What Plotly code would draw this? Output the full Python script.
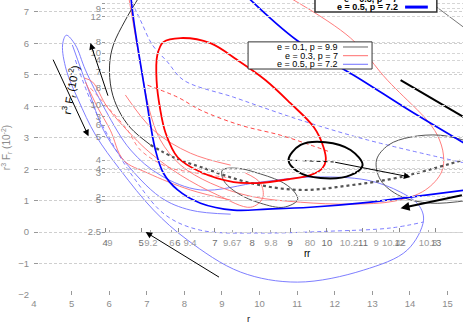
import plotly.graph_objects as go

# main axes
x_ticks = [4, 5, 6, 7, 8, 9, 10, 11, 12, 13, 14, 15]
y_ticks = [-2, -1, 0, 1, 2, 3, 4, 5, 6, 7]

# inset axis labels (as they appear, overlapping)
inset_y_vals = [7.28, 7.12, 6.84, 6.04, 5.69, 5.47, 5.09, 4.58, 4.04, 3.66, 3.40, 3.05, 2.29, 2.03, 1.88, 1.14, 1.02, 0.0]
inset_y_text = ["4.5", "9", "12", "8", "10", "4", "7", "8", "10", "3", "6", "5", "4", "4", "3", "2", "5", "2.5"]
inset_x_vals = [5.89, 6.85, 7.83, 8.81, 9.80, 10.81, 11.79, 12.75, 13.73, 14.69]
inset_x_text = ["4", "5", "6", "7", "8", "9", "10", "11", "12", "13"]
inset_x2_vals = [6.02, 7.11, 7.67, 8.15, 9.27, 10.30, 11.34, 12.38, 13.10, 13.57, 14.48]
inset_x2_text = ["9", "9.2", "6", "9.4", "9.67", "9.8", "80", "10.2", "9", "10.42", "10.3"]

# orbits: r, r^3 F_r (10^-2)
blue_thick_x = [6.57, 6.65, 6.75, 6.86, 6.99, 7.10, 7.23, 7.44, 7.82, 8.43, 9.31, 10.21, 11.35, 12.68, 14.01, 15.48,
                None, 9.71, 10.99, 12.72, 13.97, 15.48]
blue_thick_y = [7.54, 6.74, 5.95, 5.15, 4.20, 3.40, 2.61, 1.88, 1.34, 0.92, 0.70, 0.73, 0.79, 0.92, 1.11, 1.34,
                None, 7.44, 6.10, 4.83, 3.88, 2.80]
red_thick_x = [7.90, 8.69, 9.41, 10.16, 10.82, 11.44, 11.70, 11.76, 11.67, 11.35, 10.82, 9.94, 9.31, 8.43, 7.82,
               7.50, 7.36, 7.26, 7.28, 7.44, 7.90]
red_thick_y = [6.17, 6.01, 5.47, 4.83, 4.10, 3.34, 2.70, 2.29, 2.03, 1.81, 1.69, 1.56, 1.59, 1.91, 2.38,
               3.15, 3.88, 4.83, 5.63, 6.04, 6.17]
black_loop_x = [10.77, 11.09, 11.75, 12.42, 12.74, 12.42, 11.62, 11.03, 10.77]
black_loop_y = [2.29, 2.77, 2.86, 2.61, 2.13, 1.81, 1.72, 1.91, 2.29]
gray_big_x = [15.61, 14.81, 14.01, 13.43, 13.11, 13.22, 13.75, 14.55, 15.61]
gray_big_y = [2.86, 3.08, 3.02, 2.77, 2.29, 1.65, 1.14, 0.92, 1.02]
gray_small_x = [9.01, 9.41, 9.94, 10.64, 10.95, 11.01, 10.64, 10.02, 9.41, 9.04, 9.01]
gray_small_y = [1.97, 2.03, 1.88, 1.56, 1.24, 1.02, 0.79, 0.92, 1.24, 1.65, 1.97]
dark_x = [6.83, 6.43, 6.11, 6.01, 6.06, 6.25, 6.57, 7.10]
dark_y = [7.54, 6.74, 5.95, 5.31, 4.52, 3.88, 3.31, 2.77]
dotted_x = [7.10, 7.76, 8.43, 9.76, 11.09, 12.42, 13.75, 15.48]
dotted_y = [2.77, 2.35, 2.07, 1.56, 1.34, 1.49, 1.75, 2.32]
blue_loop_x = [4.86, 4.76, 4.86, 5.18, 5.64, 6.30, 7.18, 8.08, 9.49, 11.01, 12.76, 13.93, 14.36, 14.23, 13.75,
               12.87, 11.35, 10.02, 8.43, 7.36, 6.57, 5.90, 5.37, 5.10, 4.86]
blue_loop_y = [6.26, 5.95, 5.15, 4.20, 3.08, 1.97, 0.70, -0.25, -1.27, -1.59, -1.21, -0.57, 0.38, 0.86, 1.27,
               1.65, 1.75, 1.59, 1.34, 1.81, 2.61, 3.88, 5.15, 5.95, 6.26]
blue_dash1_x = [6.51, 6.83, 7.15, 7.55, 7.98, 9.31, 10.29, 11.09, 12.87, 15.48]
blue_dash1_y = [7.54, 6.74, 5.95, 5.41, 4.83, 4.29, 3.88, 3.56, 2.93, 2.19]
blue_dash2_x = [5.10, 5.50, 6.03, 6.70, 7.50, 8.43, 10.02, 11.89, 13.48, 14.36]
blue_dash2_y = [5.47, 4.20, 2.93, 1.65, 0.54, 0.06, -0.03, 0.03, 0.13, 0.32]
blue_thin_x = [5.02, 5.45, 5.85, 6.38, 7.36, 8.16, 9.23]
blue_thin_y = [5.95, 4.52, 3.24, 2.29, 1.11, 0.70, 0.57]
red_big_x = [6.51, 6.67, 6.86, 7.07, 7.36, 7.90, 8.69, 9.76, 11.09, 12.42, 13.61, 14.41, 14.84, 14.89, 14.73,
             14.41, 14.20, 13.40, 12.42, 10.82]
red_big_y = [7.54, 6.42, 5.15, 3.88, 2.93, 2.13, 1.56, 1.14, 0.95, 0.89, 0.99, 1.34, 1.91, 2.45, 3.08,
             3.62, 3.88, 4.83, 6.17, 7.44]
red_dash1_x = [7.02, 7.82, 8.43, 9.49, 10.56, 11.35, 11.89]
red_dash1_y = [4.67, 4.29, 3.88, 3.40, 3.08, 2.77, 2.54]
red_a_x = [5.34, 5.56, 5.95, 6.65, 7.10, 7.90, 8.88, 9.76, 10.08, 10.02, 9.62]
red_a_y = [4.90, 4.77, 3.97, 3.02, 2.51, 1.81, 1.18, 0.79, 1.08, 1.56, 1.88]
red_b_x = [5.37, 5.69, 6.03, 6.38, 7.02, 8.16, 9.23]
red_b_y = [4.77, 3.97, 3.24, 2.29, 1.88, 1.34, 1.02]
red_dash2_x = [5.50, 6.03, 6.49, 6.83, 7.55, 8.16, 9.23]
red_dash2_y = [4.58, 3.88, 3.24, 2.61, 2.07, 1.91, 1.72]
red_c_x = [6.43, 7.18, 8.16, 9.23]
red_c_y = [4.36, 3.24, 2.51, 2.13]
gray_corner_x = [14.28, 15.42]
gray_corner_y = [7.54, 6.52]
black_seg_x = [13.75, 15.42]
black_seg_y = [4.83, 3.66]
black_dash_x = [10.77, 11.97]
black_dash_y = [2.29, 2.23]

# arrows: tail -> head
arrow_tail_x = [4.49, 5.98, 8.96, 11.97, 15.42]
arrow_tail_y = [5.53, 4.29, -1.46, 2.23, 1.18]
arrow_head_x = [5.45, 5.50, 6.97, 14.01, 13.75]
arrow_head_y = [3.05, 6.01, 0.00, 1.75, 0.76]
arrow_width = [1, 1, 1, 1, 2]

legend_labels = ["e = 0.1, p = 9.9", "e = 0.3, p = 7", "e = 0.5, p = 7.2"]

FONT = "Liberation Sans, Arial, sans-serif"
RED_T = "#ff6e6e"
BLUE_T = "#6f6fff"

fig = go.Figure()

# empty traces so the inset axes get drawn
fig.add_trace(go.Scatter(x=[None], y=[None], xaxis="x2", yaxis="y2", showlegend=False, hoverinfo="skip"))
fig.add_trace(go.Scatter(x=[None], y=[None], xaxis="x3", yaxis="y3", showlegend=False, hoverinfo="skip"))
fig.add_trace(go.Scatter(x=[None], y=[None], xaxis="x4", yaxis="y3", showlegend=False, hoverinfo="skip"))


def curve(xs, ys, color, width, dash="solid"):
    fig.add_trace(go.Scatter(x=xs, y=ys, mode="lines",
                             line=dict(color=color, width=width, dash=dash, shape="spline", smoothing=1),
                             hoverinfo="skip", showlegend=False))


curve(blue_loop_x, blue_loop_y, BLUE_T, 0.9)
curve(blue_thin_x, blue_thin_y, BLUE_T, 0.9)
curve(blue_dash1_x, blue_dash1_y, BLUE_T, 0.9, "4px,3px")
curve(blue_dash2_x, blue_dash2_y, BLUE_T, 0.9, "4px,3px")
curve(red_big_x, red_big_y, RED_T, 0.9)
curve(red_a_x, red_a_y, RED_T, 0.9)
curve(red_b_x, red_b_y, RED_T, 0.9)
curve(red_c_x, red_c_y, RED_T, 0.9)
curve(red_dash1_x, red_dash1_y, "#ff3030", 0.9, "4px,3px")
curve(red_dash2_x, red_dash2_y, RED_T, 0.9, "4px,3px")
curve(gray_big_x, gray_big_y, "#555555", 1)
curve(gray_small_x, gray_small_y, "#555555", 1)
curve(gray_corner_x, gray_corner_y, "#777777", 1)
curve(dark_x, dark_y, "#333333", 1)
curve(dotted_x, dotted_y, "#555555", 2.2, "dot")
curve(blue_thick_x, blue_thick_y, "#0000ff", 1.7)
curve(red_thick_x, red_thick_y, "#ff0000", 1.8)
curve(black_loop_x, black_loop_y, "#000000", 2)
curve(black_dash_x, black_dash_y, "#000000", 1, "4px,3px")
curve(black_seg_x, black_seg_y, "#000000", 2)

for tx, ty, hx, hy, w in zip(arrow_tail_x, arrow_tail_y, arrow_head_x, arrow_head_y, arrow_width):
    fig.add_annotation(x=hx, y=hy, ax=tx, ay=ty, xref="x", yref="y", axref="x", ayref="y",
                       text="", showarrow=True, arrowhead=2, arrowsize=1.3 if w == 1 else 0.9,
                       arrowwidth=w, arrowcolor="#000000")

tick_font = dict(family=FONT, size=9.5, color="#8c8c8c")

fig.update_layout(
    width=463, height=324,
    margin=dict(l=34, r=0, t=0, b=29),
    paper_bgcolor="white", plot_bgcolor="rgba(0,0,0,0)",
    showlegend=False,
    xaxis=dict(domain=[0, 1], range=[4, 15.41], tickvals=x_ticks, ticks="inside", ticklen=4,
               tickcolor="#999999", showgrid=False, zeroline=False, showline=False, tickfont=tick_font,
               ticklabelstandoff=1, anchor="y", automargin=False,
               title=dict(text="r", font=dict(family=FONT, size=9.5, color="#222222"))),
    yaxis=dict(domain=[0, 1], range=[-2, 7.38], tickvals=y_ticks, ticks="inside", ticklen=4,
               tickcolor="#999999", zeroline=False, showline=False, tickfont=tick_font, anchor="x",
               ticklabelstandoff=4, automargin=False,
               showgrid=True, gridcolor="#cfcfcf", griddash="3px,2px", gridwidth=1,
               title=dict(text="r<sup>3</sup> F<sub>r</sub> (10<sup>-2</sup>)",
                          font=dict(family=FONT, size=10, color="#8c8c8c"))),
    xaxis2=dict(domain=[0.1585, 1], range=[5.8, 15.41], visible=False, anchor="y2", automargin=False),
    yaxis2=dict(domain=[0, 1], range=[-2, 7.38], anchor="x2", tickvals=inset_y_vals, ticktext=inset_y_text,
                ticks="inside", ticklen=3, tickcolor="#999999", zeroline=False, showline=False,
                tickfont=dict(family=FONT, size=9.5, color="#8c8c8c"), automargin=False,
                showgrid=True, gridcolor="#d6d6d6", griddash="3px,2px", gridwidth=1),
    xaxis3=dict(domain=[0, 1], range=[4, 15.41], anchor="y3", tickvals=inset_x_vals, ticktext=inset_x_text,
                ticks="inside", ticklen=4, tickcolor="#888888", tickangle=0, showgrid=False, zeroline=False,
                showline=False, automargin=False, ticklabelstandoff=4,
                tickfont=dict(family=FONT, size=9.5, color="#6e6e6e")),
    xaxis4=dict(overlaying="x3", anchor="y3", range=[4, 15.41], tickvals=inset_x2_vals, ticktext=inset_x2_text,
                ticks="inside", ticklen=2, tickcolor="#aaaaaa", tickangle=0, showgrid=False, zeroline=False,
                showline=False, side="bottom", automargin=False, ticklabelstandoff=4,
                tickfont=dict(family=FONT, size=9.5, color="#9a9a9a")),
    yaxis3=dict(domain=[0.2136, 1], range=[0, 1], visible=False, anchor="x3", automargin=False),
)

# stray axis titles of the inset
fig.add_annotation(x=11.23, y=-0.67, xref="x", yref="y", text="r", showarrow=False,
                   font=dict(family=FONT, size=10, color="#000000"))
fig.add_annotation(x=11.31, y=-0.67, xref="x", yref="y", text="r", showarrow=False,
                   font=dict(family=FONT, size=10, color="#000000"))
fig.add_annotation(x=5.0, y=4.51, xref="x", yref="y", textangle=-80, showarrow=False,
                   text="r<sup>3</sup> F<sub>r</sub> (10<sup>-2</sup>)",
                   font=dict(family=FONT, size=11, color="#000000"))

# legend box (middle)
fig.add_shape(type="rect", xref="paper", yref="paper", x0=0.499, x1=0.788, y0=0.766, y1=0.858,
              line=dict(color="#333333", width=1), fillcolor="white", layer="above")
leg_y = [0.8407, 0.8112, 0.7821]
leg_col = ["#666666", RED_T, BLUE_T]
for lab, yy, col in zip(legend_labels, leg_y, leg_col):
    fig.add_annotation(x=0.7133, y=yy, xref="paper", yref="paper", text=lab, showarrow=False,
                       xanchor="right", yanchor="middle", font=dict(family=FONT, size=9, color="#000000"))
    fig.add_shape(type="line", xref="paper", yref="paper", x0=0.7203, x1=0.7786, y0=yy, y1=yy,
                  line=dict(color=col, width=1), layer="above")

# legend box (top, cut off)
fig.add_shape(type="rect", xref="paper", yref="paper", x0=0.655, x1=0.939, y0=0.9593, y1=1.08,
              line=dict(color="#333333", width=1.5), fillcolor="white", layer="above")
fig.add_annotation(x=0.853, y=0.976, xref="paper", yref="paper", text="<b>" + legend_labels[2] + "</b>",
                   showarrow=False, xanchor="right", yanchor="middle",
                   font=dict(family=FONT, size=9, color="#000000"))
fig.add_annotation(x=0.853, y=1.004, xref="paper", yref="paper", text="<b>" + legend_labels[1] + "</b>",
                   showarrow=False, xanchor="right", yanchor="middle",
                   font=dict(family=FONT, size=9, color="#000000"))
fig.add_shape(type="line", xref="paper", yref="paper", x0=0.865, x1=0.918, y0=0.976, y1=0.976,
              line=dict(color="#0000ff", width=3), layer="above")

fig.write_html("out.html", config={"displayModeBar": False},
               post_script="document.body.style.margin='0';")
